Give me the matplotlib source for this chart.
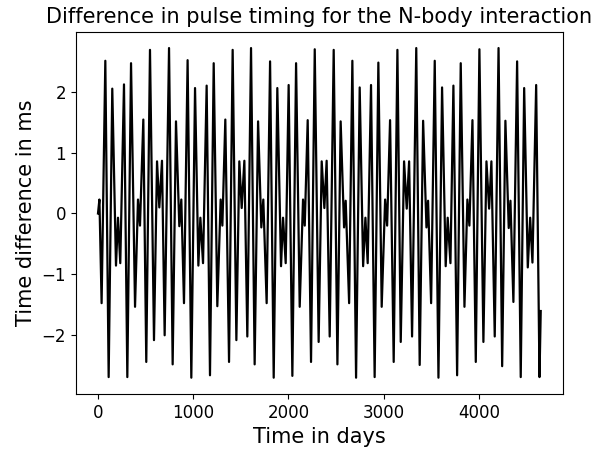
import matplotlib
matplotlib.use("Agg")
import matplotlib.pyplot as plt

# Extrema of the timing-difference curve (days, ms)
days = [0, 15, 38, 77, 112, 150, 189, 210, 234, 273, 308, 347, 389, 420, 441, 476, 507,
        546, 588, 620, 644, 672, 700, 746, 784, 819, 854, 875, 903, 941, 980, 1019, 1054,
        1075, 1103, 1141, 1176, 1215, 1253, 1288, 1306, 1337, 1376, 1414, 1453, 1484, 1509,
        1537, 1568, 1607, 1645, 1681, 1715, 1736, 1771, 1807, 1845, 1883, 1922, 1943, 1971,
        2002, 2041, 2080, 2118, 2153, 2171, 2202, 2237, 2276, 2317, 2349, 2377, 2401, 2433,
        2475, 2514, 2548, 2584, 2601, 2637, 2671, 2710, 2748, 2784, 2808, 2832, 2867, 2905,
        2944, 2979, 3015, 3036, 3067, 3105, 3144, 3179, 3214, 3242, 3267, 3298, 3342, 3378,
        3414, 3449, 3466, 3498, 3536, 3575, 3613, 3651, 3672, 3701, 3732, 3771, 3809, 3848,
        3879, 3900, 3932, 3967, 4005, 4047, 4079, 4107, 4131, 4166, 4206, 4244, 4278, 4313,
        4331, 4362, 4401, 4439, 4475, 4513, 4538, 4562, 4601, 4636, 4649]
diff_ms = [0.0, 0.23, -1.48, 2.52, -2.70, 2.06, -0.86, -0.07, -0.82, 2.13, -2.70, 2.48, -1.54,
           0.23, -0.20, 1.55, -2.45, 2.70, -2.09, 0.86, 0.10, 0.87, -2.01, 2.73, -2.49, 1.52,
           -0.21, 0.23, -1.48, 2.53, -2.71, 2.07, -0.86, -0.07, -0.82, 2.11, -2.67, 2.48, -1.53,
           0.23, -0.20, 1.55, -2.45, 2.70, -2.09, 0.86, 0.09, 0.87, -2.03, 2.73, -2.49, 1.52,
           -0.23, 0.23, -1.48, 2.51, -2.71, 2.07, -0.87, -0.07, -0.82, 2.12, -2.68, 2.48, -1.54,
           0.23, -0.20, 1.54, -2.45, 2.71, -2.12, 0.86, 0.09, 0.87, -2.03, 2.70, -2.49, 1.52,
           -0.23, 0.21, -1.48, 2.52, -2.71, 2.08, -0.87, -0.07, -0.82, 2.12, -2.70, 2.49, -1.54,
           0.23, -0.20, 1.54, -2.45, 2.70, -2.12, 0.86, 0.08, 0.86, -2.03, 2.73, -2.50, 1.53,
           -0.23, 0.21, -1.48, 2.52, -2.71, 2.08, -0.87, -0.07, -0.82, 2.11, -2.67, 2.48, -1.54,
           0.23, -0.20, 1.54, -2.45, 2.71, -2.12, 0.86, 0.08, 0.86, -2.03, 2.73, -2.52, 1.53,
           -0.24, 0.21, -1.46, 2.51, -2.70, 2.07, -0.89, -0.07, -0.81, 2.12, -2.70, -1.61]

x_ticks = [0, 1000, 2000, 3000, 4000]
y_ticks = [-2, -1, 0, 1, 2]

fig = plt.figure(figsize=(6.02, 4.51), dpi=100)
ax = fig.add_axes([0.126, 0.126, 0.809, 0.804])
ax.plot(days, diff_ms, color="black", linewidth=1.6)
ax.set_xticks(x_ticks)
ax.set_yticks(y_ticks)
ax.tick_params(labelsize=12)
ax.set_xlabel("Time in days", fontsize=15)
ax.set_ylabel("Time difference in ms", fontsize=15)
ax.set_title("Difference in pulse timing for the N-body interaction", fontsize=15)
fig.savefig("out.png", dpi=100)
